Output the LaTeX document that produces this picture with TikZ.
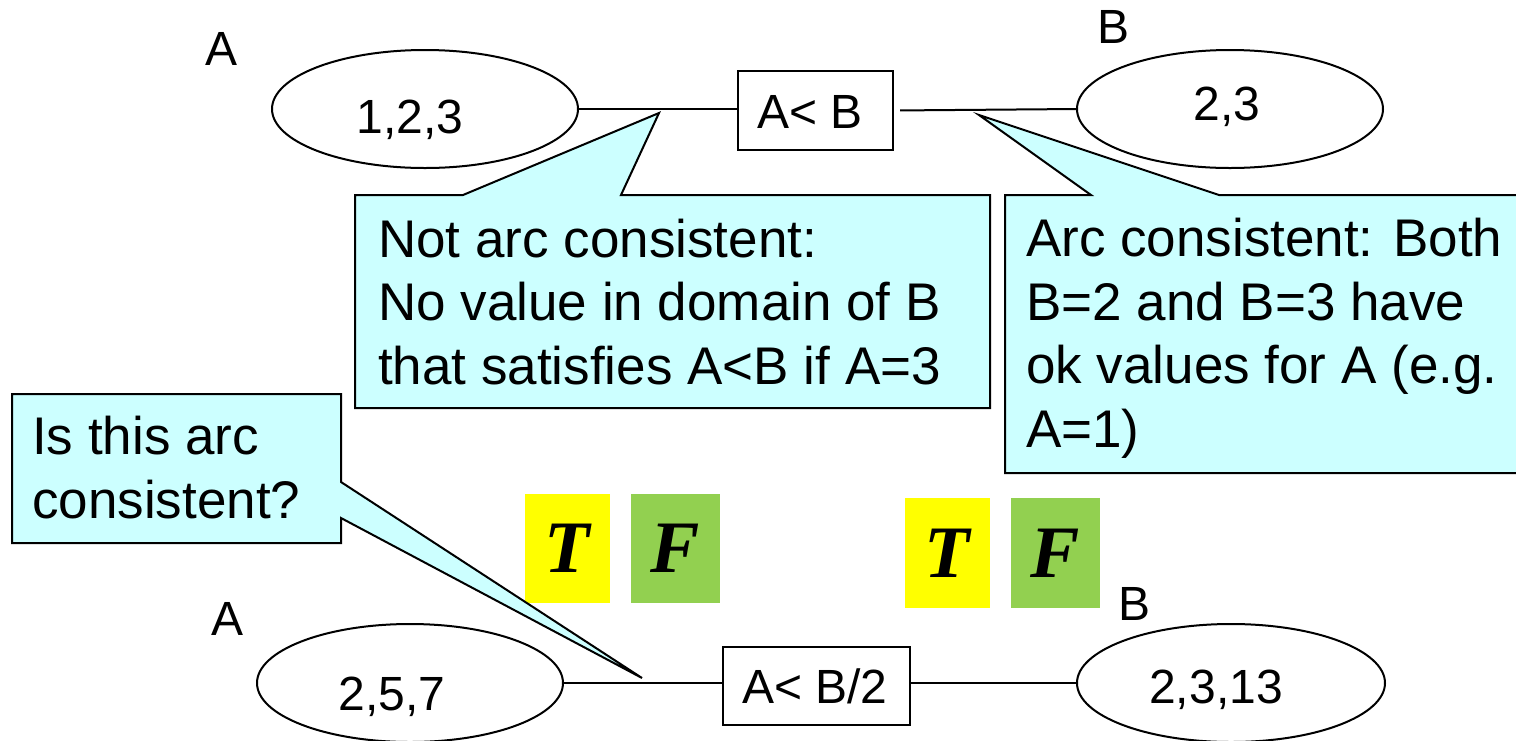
\documentclass[tikz,border=0pt]{standalone}
\usepackage{fontspec}
\setmainfont{Liberation Sans}
\newfontfamily\serifbi{Liberation Serif}
\usetikzlibrary{shapes.geometric}
\definecolor{calloutfill}{HTML}{CCFFFF}
\definecolor{tyellow}{HTML}{FFFF00}
\definecolor{fgreen}{HTML}{92D050}
\tikzset{
  varnode/.style={ellipse,draw,line width=2pt,minimum width=306pt,minimum height=118pt,inner sep=0pt,outer sep=0pt},
  constraint/.style={rectangle,draw,line width=2pt,inner sep=0pt,outer sep=0pt},
  numtext/.style={anchor=base,font=\fontsize{48}{56}\selectfont,inner sep=0pt},
  calltext/.style={anchor=base west,align=left,font=\fontsize{53}{63.5}\selectfont,inner sep=0pt},
  callout/.style={fill=calloutfill,draw,line width=2pt,line join=miter},
  tfbox/.style={minimum height=109pt,inner sep=0pt,font=\serifbi\fontsize{74}{80}\selectfont\bfseries\itshape},
  link/.style={line width=2pt},
}
\begin{document}
\begin{tikzpicture}[x=1pt,y=-1pt]
\useasboundingbox (0,0) rectangle (1516,740);

% upper constraint network: A --- A<B --- B
\node[varnode] (e1) at (425,109) {};
\node[varnode] (e2) at (1230,109) {};
\node[constraint,minimum width=155pt,minimum height=79pt] (c1) at (815.5,110.5) {};
\node[numtext] (e1t) at (410,133) {1,2,3};
\node[numtext] (e2t) at (1227,120) {2,3};
\node[numtext] (c1t) at (810,128) {A< B};
\node[numtext] (la1) at (222,65) {A};
\node[numtext] (lb1) at (1113,43) {B};
\draw[link] (e1.east) -- (e1.east -| c1.west);
\draw[link,shorten <=7pt] (c1.east) -- (e2.west);

% lower constraint network: A --- A<B/2 --- B
\node[varnode] (e3) at (410,683) {};
\node[varnode,minimum width=308pt] (e4) at (1231,683) {};
\node[constraint,minimum width=187pt,minimum height=78pt] (c2) at (816.5,686) {};
\node[numtext] (e3t) at (392,710) {2,5,7};
\node[numtext] (e4t) at (1216,703) {2,3,13};
\node[numtext] (c2t) at (815,703) {A< B/2};
\node[numtext] (la2) at (228,635) {A};
\node[numtext] (lb2) at (1134,620) {B};
\draw[link] (e3.east) -- (e3.east -| c2.west);
\draw[link] (c2.east |- e4.west) -- (e4.west);

% true / false answer cards
\node[tfbox,fill=tyellow,minimum width=85pt] (t1) at (567.5,548.5) {T};
\node[tfbox,fill=fgreen,minimum width=89pt] (f1) at (675.5,548.5) {F};
\node[tfbox,fill=tyellow,minimum width=85pt,minimum height=110pt] (t2) at (947.5,553) {T};
\node[tfbox,fill=fgreen,minimum width=89pt,minimum height=110pt] (f2) at (1055.5,553) {F};

% callouts
\coordinate (p1) at (659,113);
\coordinate (p2) at (979,115);
\coordinate (p3) at (642,678);
\draw[callout] (355,195) -- (463,195) -- (p1) -- (621,195) -- (990,195)
  -- (990,408) -- (355,408) -- cycle;
\draw[callout] (1005,195) -- (1091,195) -- (p2) -- (1219,195) -- (1530,195)
  -- (1530,473) -- (1005,473) -- cycle;
\draw[callout] (12,394) -- (341,394) -- (341,482) -- (p3) -- (341,518)
  -- (341,543) -- (12,543) -- cycle;

% callout texts (base anchor sits on the last line)
\node[calltext] (n1) at (378,384) {Not arc consistent:\\No value in domain of B\\that satisfies A<B if A=3};
\node[calltext] (n2) at (1026,447) {Arc consistent: Both\\B=2 and B=3 have\\ok values for A (e.g.\\A=1)};
\node[calltext] (n3) at (32,518) {Is this arc\\consistent?};
\end{tikzpicture}
\end{document}
